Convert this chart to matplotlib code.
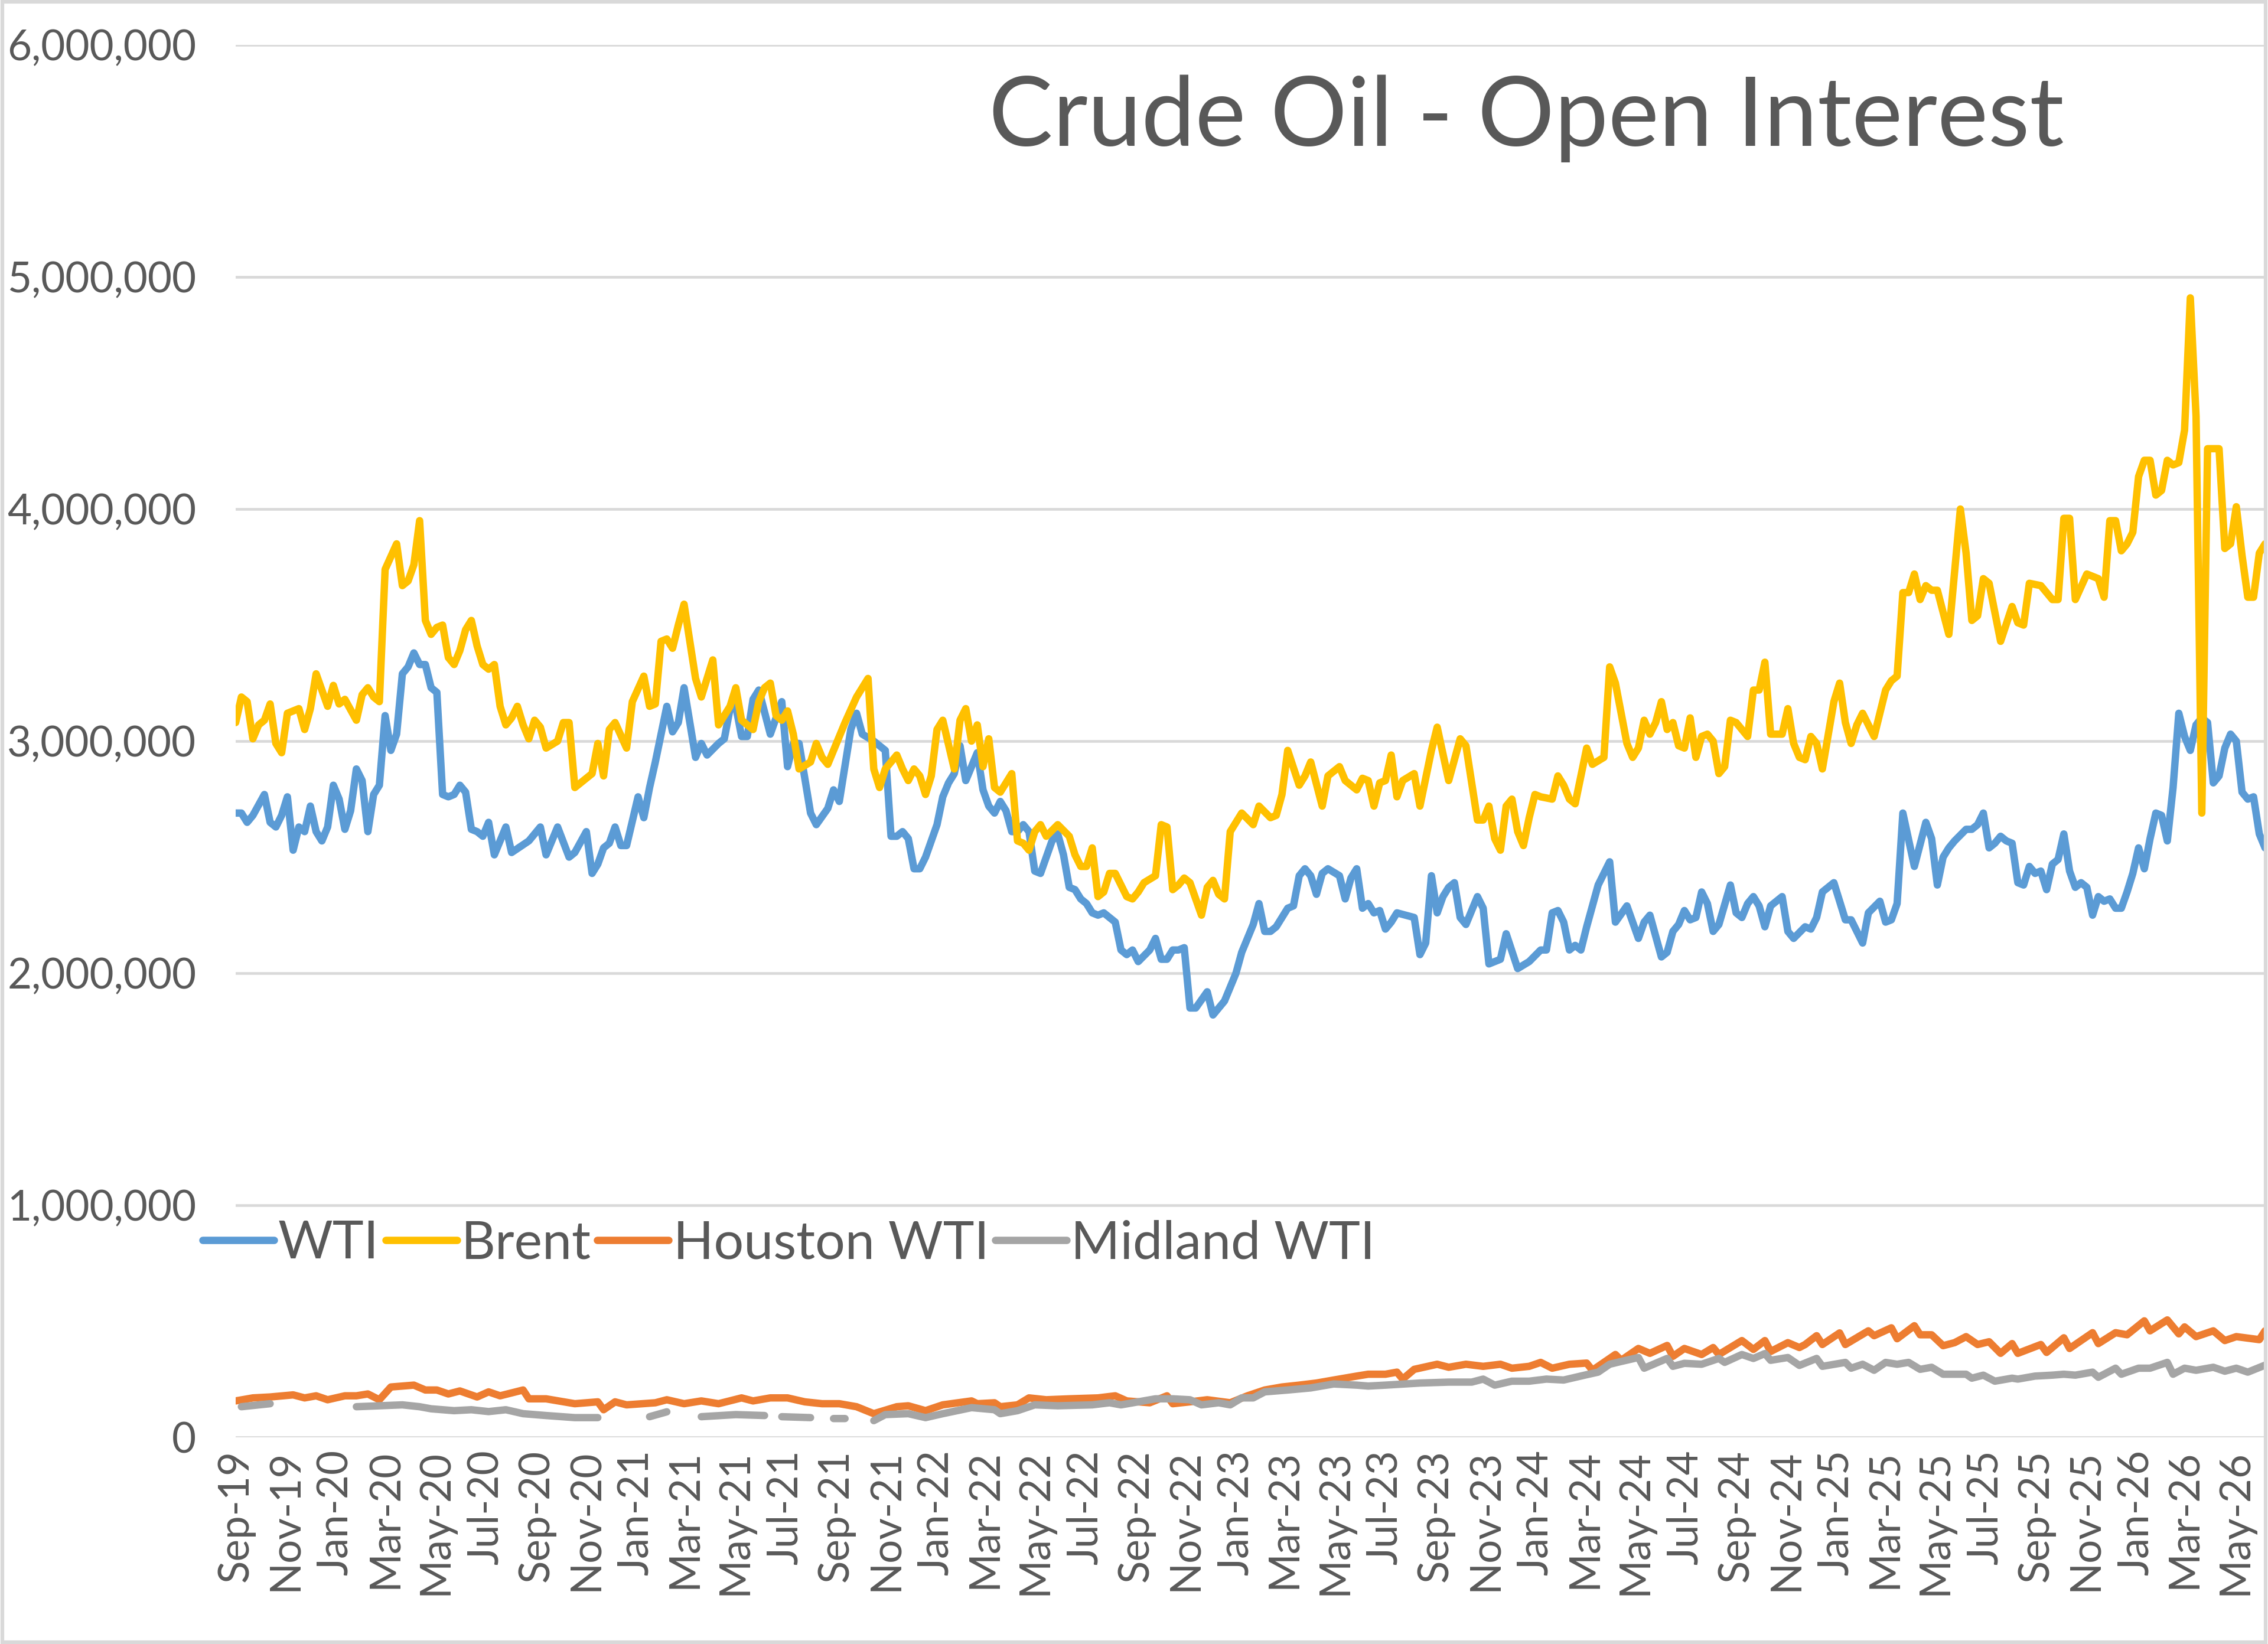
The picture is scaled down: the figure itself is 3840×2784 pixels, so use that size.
import datetime as dt
import numpy as np
import matplotlib
matplotlib.use("Agg")
import matplotlib.pyplot as plt
import matplotlib.dates as mdates
from matplotlib.ticker import FuncFormatter, MultipleLocator
from matplotlib.patches import Rectangle

plt.rcParams['font.family'] = ['Lato', 'DejaVu Sans']

start = dt.date(2019, 9, 3)  # first weekly report
n_weeks = 353

# (weeks since start, open interest in millions of contracts)
wti = [(0, 2.69), (1, 2.69), (2, 2.65), (3, 2.68), (5, 2.77), (6, 2.65), (7, 2.63), (8, 2.68),
       (9, 2.76), (10, 2.53), (11, 2.63), (12, 2.61), (13, 2.72), (14, 2.61), (15, 2.57), (16, 2.63),
       (17, 2.81), (18, 2.75), (19, 2.62), (20, 2.70), (21, 2.88), (22, 2.83), (23, 2.61), (24, 2.77),
       (25, 2.81), (26, 3.11), (27, 2.96), (28, 3.03), (29, 3.29), (30, 3.32), (31, 3.38), (32, 3.33),
       (33, 3.33), (34, 3.23), (35, 3.21), (36, 2.77), (37, 2.76), (38, 2.77), (39, 2.81), (40, 2.78),
       (41, 2.62), (42, 2.61), (43, 2.59), (44, 2.65), (45, 2.51), (46, 2.57), (47, 2.63), (48, 2.52),
       (51, 2.57), (53, 2.63), (54, 2.51), (56, 2.63), (58, 2.50), (59, 2.52), (61, 2.61), (62, 2.43),
       (63, 2.47), (64, 2.54), (65, 2.56), (66, 2.63), (67, 2.55), (68, 2.55), (70, 2.76), (71, 2.67),
       (72, 2.80), (73, 2.91), (75, 3.15), (76, 3.04), (77, 3.08), (78, 3.23), (80, 2.93), (81, 2.99),
       (82, 2.94), (84, 2.99), (85, 3.01), (86, 3.14), (87, 3.15), (88, 3.02), (89, 3.02), (90, 3.18),
       (91, 3.22), (93, 3.03), (94, 3.10), (95, 3.17), (96, 2.89), (97, 2.99), (98, 2.99), (100, 2.69),
       (101, 2.64), (103, 2.71), (104, 2.79), (105, 2.74), (107, 3.05), (108, 3.12), (109, 3.03),
       (111, 3.00), (113, 2.96), (114, 2.59), (115, 2.59), (116, 2.61), (117, 2.58), (118, 2.45),
       (119, 2.45), (120, 2.50), (122, 2.64), (123, 2.76), (124, 2.82), (125, 2.86), (126, 2.98),
       (127, 2.83), (129, 2.95), (130, 2.79), (131, 2.72), (132, 2.69), (133, 2.74), (134, 2.70),
       (135, 2.61), (136, 2.61), (137, 2.64), (138, 2.61), (139, 2.44), (140, 2.43), (142, 2.57),
       (143, 2.60), (144, 2.51), (145, 2.37), (146, 2.36), (147, 2.32), (148, 2.30), (149, 2.26),
       (150, 2.25), (151, 2.26), (152, 2.24), (153, 2.22), (154, 2.10), (155, 2.08), (156, 2.10),
       (157, 2.05), (159, 2.10), (160, 2.15), (161, 2.06), (162, 2.06), (163, 2.10), (164, 2.10),
       (165, 2.11), (166, 1.85), (167, 1.85), (169, 1.92), (170, 1.82), (172, 1.88), (174, 2.00),
       (175, 2.09), (177, 2.21), (178, 2.30), (179, 2.18), (180, 2.18), (181, 2.20), (183, 2.28),
       (184, 2.29), (185, 2.42), (186, 2.45), (187, 2.42), (188, 2.34), (189, 2.43), (190, 2.45),
       (192, 2.42), (193, 2.32), (194, 2.41), (195, 2.45), (196, 2.28), (197, 2.30), (198, 2.26),
       (199, 2.27), (200, 2.19), (201, 2.22), (202, 2.26), (205, 2.24), (206, 2.08), (207, 2.13),
       (208, 2.42), (209, 2.26), (210, 2.33), (211, 2.37), (212, 2.39), (213, 2.24), (214, 2.21),
       (216, 2.33), (217, 2.28), (218, 2.04), (220, 2.06), (221, 2.17), (223, 2.02), (225, 2.05),
       (227, 2.10), (228, 2.10), (229, 2.26), (230, 2.27), (231, 2.22), (232, 2.10), (233, 2.12),
       (234, 2.10), (235, 2.20), (237, 2.38), (239, 2.48), (240, 2.22), (242, 2.29), (244, 2.15),
       (245, 2.22), (246, 2.25), (248, 2.07), (249, 2.09), (250, 2.18), (251, 2.21), (252, 2.27),
       (253, 2.23), (254, 2.24), (255, 2.35), (256, 2.30), (257, 2.18), (258, 2.21), (260, 2.38),
       (261, 2.26), (262, 2.24), (263, 2.30), (264, 2.33), (265, 2.29), (266, 2.20), (267, 2.29),
       (269, 2.33), (270, 2.18), (271, 2.15), (273, 2.20), (274, 2.19), (275, 2.24), (276, 2.35),
       (278, 2.39), (280, 2.23), (281, 2.23), (283, 2.13), (284, 2.26), (286, 2.31), (287, 2.22),
       (288, 2.23), (289, 2.30), (290, 2.69), (292, 2.46), (294, 2.65), (295, 2.58), (296, 2.38),
       (297, 2.50), (298, 2.54), (299, 2.57), (301, 2.62), (302, 2.62), (303, 2.64), (304, 2.69),
       (305, 2.54), (306, 2.56), (307, 2.59), (308, 2.57), (309, 2.56), (310, 2.39), (311, 2.38),
       (312, 2.46), (313, 2.43), (314, 2.44), (315, 2.36), (316, 2.47), (317, 2.49), (318, 2.60),
       (319, 2.44), (320, 2.37), (321, 2.39), (322, 2.37), (323, 2.25), (324, 2.33), (325, 2.31),
       (326, 2.32), (327, 2.28), (328, 2.28), (329, 2.35), (330, 2.43), (331, 2.54), (332, 2.45),
       (333, 2.58), (334, 2.69), (335, 2.68), (336, 2.57), (337, 2.80), (338, 3.12), (339, 3.02),
       (340, 2.96), (341, 3.07), (342, 3.10), (343, 3.08), (344, 2.82), (345, 2.85), (346, 2.97),
       (347, 3.03), (348, 3.00), (349, 2.78), (350, 2.75), (351, 2.76), (352, 2.60), (353, 2.54)]

brent = [(0, 3.08), (1, 3.19), (2, 3.17), (3, 3.01), (4, 3.07), (5, 3.09), (6, 3.16), (7, 2.99),
         (8, 2.95), (9, 3.12), (11, 3.14), (12, 3.05), (13, 3.14), (14, 3.29), (16, 3.15), (17, 3.24),
         (18, 3.16), (19, 3.18), (21, 3.09), (22, 3.20), (23, 3.23), (24, 3.19), (25, 3.17), (26, 3.74),
         (28, 3.85), (29, 3.67), (30, 3.69), (31, 3.76), (32, 3.95), (33, 3.52), (34, 3.46), (35, 3.49),
         (36, 3.50), (37, 3.36), (38, 3.33), (39, 3.39), (40, 3.48), (41, 3.52), (42, 3.41), (43, 3.33),
         (44, 3.31), (45, 3.33), (46, 3.15), (47, 3.07), (48, 3.10), (49, 3.15), (50, 3.07), (51, 3.01),
         (52, 3.09), (53, 3.06), (54, 2.97), (56, 3.00), (57, 3.08), (58, 3.08), (59, 2.80), (60, 2.82),
         (62, 2.86), (63, 2.99), (64, 2.85), (65, 3.05), (66, 3.08), (68, 2.97), (69, 3.17), (71, 3.28),
         (72, 3.15), (73, 3.16), (74, 3.43), (75, 3.44), (76, 3.40), (77, 3.50), (78, 3.59), (80, 3.27),
         (81, 3.19), (83, 3.35), (84, 3.07), (86, 3.15), (87, 3.23), (88, 3.09), (90, 3.05), (91, 3.17),
         (92, 3.23), (93, 3.25), (94, 3.11), (95, 3.09), (96, 3.13), (97, 3.03), (98, 2.88), (100, 2.91),
         (101, 2.99), (102, 2.93), (103, 2.90), (105, 3.02), (106, 3.08), (108, 3.19), (110, 3.27),
         (111, 2.88), (112, 2.80), (113, 2.88), (114, 2.91), (115, 2.94), (116, 2.88), (117, 2.83),
         (118, 2.88), (119, 2.85), (120, 2.77), (121, 2.85), (122, 3.05), (123, 3.09), (125, 2.88),
         (126, 3.09), (127, 3.14), (128, 3.00), (129, 3.07), (130, 2.89), (131, 3.01), (132, 2.80),
         (133, 2.78), (135, 2.86), (136, 2.57), (137, 2.56), (138, 2.53), (139, 2.61), (140, 2.64),
         (141, 2.59), (143, 2.64), (145, 2.59), (146, 2.51), (147, 2.46), (148, 2.46), (149, 2.54),
         (150, 2.33), (151, 2.35), (152, 2.43), (153, 2.43), (155, 2.33), (156, 2.32), (157, 2.35),
         (158, 2.39), (160, 2.42), (161, 2.64), (162, 2.63), (163, 2.36), (164, 2.38), (165, 2.41),
         (166, 2.39), (168, 2.25), (169, 2.37), (170, 2.40), (171, 2.34), (172, 2.32), (173, 2.61),
         (175, 2.69), (177, 2.64), (178, 2.72), (180, 2.67), (181, 2.68), (182, 2.77), (183, 2.96),
         (185, 2.81), (186, 2.85), (187, 2.91), (189, 2.72), (190, 2.85), (192, 2.89), (193, 2.83),
         (195, 2.79), (196, 2.84), (197, 2.83), (198, 2.72), (199, 2.82), (200, 2.83), (201, 2.94),
         (202, 2.76), (203, 2.83), (205, 2.86), (206, 2.72), (208, 2.96), (209, 3.06), (211, 2.83),
         (213, 3.01), (214, 2.98), (216, 2.66), (217, 2.66), (218, 2.72), (219, 2.58), (220, 2.53),
         (221, 2.72), (222, 2.75), (223, 2.61), (224, 2.55), (225, 2.67), (226, 2.77), (227, 2.76),
         (229, 2.75), (230, 2.85), (231, 2.81), (232, 2.75), (233, 2.73), (235, 2.97), (236, 2.90),
         (238, 2.93), (239, 3.32), (240, 3.25), (242, 2.99), (243, 2.93), (244, 2.97), (245, 3.09),
         (246, 3.03), (247, 3.08), (248, 3.17), (249, 3.05), (250, 3.08), (251, 2.98), (252, 2.97),
         (253, 3.10), (254, 2.93), (255, 3.02), (256, 3.03), (257, 3.00), (258, 2.86), (259, 2.89),
         (260, 3.09), (261, 3.08), (263, 3.02), (264, 3.22), (265, 3.22), (266, 3.34), (267, 3.03),
         (268, 3.03), (269, 3.03), (270, 3.14), (271, 2.99), (272, 2.93), (273, 2.92), (274, 3.02),
         (275, 2.99), (276, 2.88), (278, 3.17), (279, 3.25), (280, 3.08), (281, 2.99), (282, 3.07),
         (283, 3.12), (285, 3.02), (286, 3.12), (287, 3.22), (288, 3.26), (289, 3.28), (290, 3.64),
         (291, 3.64), (292, 3.72), (293, 3.61), (294, 3.67), (295, 3.65), (296, 3.65), (298, 3.46),
         (300, 4.00), (301, 3.81), (302, 3.52), (303, 3.54), (304, 3.70), (305, 3.68), (307, 3.43),
         (309, 3.58), (310, 3.51), (311, 3.50), (312, 3.68), (314, 3.67), (316, 3.61), (317, 3.61),
         (318, 3.96), (319, 3.96), (320, 3.61), (322, 3.72), (324, 3.70), (325, 3.62), (326, 3.95),
         (327, 3.95), (328, 3.82), (329, 3.85), (330, 3.90), (331, 4.14), (332, 4.21), (333, 4.21),
         (334, 4.06), (335, 4.08), (336, 4.21), (337, 4.19), (338, 4.20), (339, 4.34), (340, 4.91),
         (341, 4.40), (342, 2.69), (343, 4.26), (345, 4.26), (346, 3.83), (347, 3.85), (348, 4.01),
         (349, 3.80), (350, 3.62), (351, 3.62), (352, 3.81), (353, 3.85)]

houston = [(0, 0.157), (3, 0.170), (6, 0.174), (10, 0.183), (12, 0.170), (14, 0.179), (16, 0.162),
           (19, 0.179), (21, 0.179), (23, 0.187), (25, 0.162), (27, 0.217), (31, 0.225), (33, 0.204),
           (35, 0.204), (37, 0.187), (39, 0.200), (42, 0.174), (44, 0.196), (46, 0.179), (50, 0.204),
           (51, 0.166), (54, 0.166), (59, 0.145), (63, 0.153), (64, 0.119), (66, 0.153), (68, 0.140),
           (73, 0.149), (75, 0.162), (78, 0.145), (81, 0.157), (84, 0.145), (88, 0.170), (90, 0.157),
           (93, 0.170), (96, 0.170), (99, 0.153), (102, 0.145), (105, 0.145), (108, 0.132), (111, 0.102),
           (115, 0.132), (117, 0.136), (120, 0.115), (123, 0.140), (128, 0.157), (129, 0.145),
           (132, 0.149), (133, 0.132), (136, 0.140), (138, 0.170), (141, 0.162), (145, 0.166),
           (150, 0.170), (153, 0.179), (155, 0.157), (159, 0.149), (162, 0.179), (163, 0.145),
           (166, 0.153), (169, 0.162), (173, 0.149), (176, 0.179), (179, 0.204), (182, 0.217),
           (185, 0.225), (188, 0.234), (191, 0.247), (195, 0.264), (197, 0.272), (200, 0.272),
           (202, 0.281), (203, 0.251), (205, 0.293), (209, 0.315), (211, 0.302), (214, 0.315),
           (217, 0.306), (220, 0.315), (222, 0.298), (225, 0.306), (227, 0.323), (229, 0.298),
           (232, 0.315), (235, 0.320), (236, 0.289), (240, 0.357), (241, 0.332), (244, 0.383),
           (246, 0.362), (249, 0.396), (250, 0.349), (252, 0.383), (255, 0.357), (257, 0.387),
           (258, 0.357), (262, 0.417), (264, 0.379), (266, 0.417), (267, 0.370), (270, 0.408),
           (272, 0.387), (273, 0.400), (275, 0.438), (276, 0.400), (279, 0.450), (280, 0.400),
           (284, 0.459), (285, 0.438), (288, 0.472), (289, 0.425), (292, 0.481), (293, 0.442),
           (295, 0.442), (297, 0.395), (299, 0.408), (301, 0.434), (303, 0.400), (305, 0.412),
           (307, 0.362), (309, 0.404), (310, 0.362), (314, 0.400), (315, 0.366), (318, 0.429),
           (319, 0.383), (323, 0.451), (324, 0.404), (327, 0.451), (329, 0.442), (332, 0.502),
           (333, 0.459), (336, 0.506), (338, 0.446), (339, 0.476), (341, 0.434), (344, 0.459),
           (346, 0.417), (348, 0.434), (352, 0.421), (353, 0.459)]

# None = week with no report (line breaks there)
midland = [(1, 0.132), (6, 0.145), (7, None), (21, 0.132), (25, 0.136), (29, 0.140), (32, 0.132),
           (34, 0.123), (38, 0.115), (41, 0.119), (44, 0.111), (47, 0.119), (50, 0.102), (54, 0.094),
           (59, 0.085), (63, 0.085), (64, None), (72, 0.089), (75, 0.110), (76, None), (81, 0.089),
           (87, 0.098), (92, 0.094), (93, None), (95, 0.089), (100, 0.085), (101, None), (104, 0.081),
           (106, 0.081), (107, None), (111, 0.072), (113, 0.098), (117, 0.102), (120, 0.085),
           (123, 0.102), (128, 0.128), (132, 0.119), (133, 0.102), (136, 0.115), (139, 0.140),
           (143, 0.136), (149, 0.140), (152, 0.149), (154, 0.140), (157, 0.153), (160, 0.166),
           (163, 0.166), (166, 0.162), (168, 0.140), (171, 0.149), (173, 0.140), (175, 0.170),
           (177, 0.170), (179, 0.196), (183, 0.204), (187, 0.213), (191, 0.230), (195, 0.225),
           (197, 0.221), (200, 0.225), (206, 0.234), (211, 0.238), (215, 0.238), (217, 0.251),
           (219, 0.225), (222, 0.242), (225, 0.242), (228, 0.251), (231, 0.247), (235, 0.270),
           (237, 0.281), (239, 0.315), (241, 0.327), (244, 0.344), (245, 0.298), (249, 0.340),
           (250, 0.306), (252, 0.319), (255, 0.315), (258, 0.340), (259, 0.323), (262, 0.357),
           (264, 0.340), (266, 0.361), (267, 0.332), (270, 0.344), (272, 0.310), (275, 0.340),
           (276, 0.306), (280, 0.323), (281, 0.298), (283, 0.315), (285, 0.289), (287, 0.323),
           (289, 0.315), (291, 0.323), (293, 0.293), (295, 0.302), (297, 0.272), (301, 0.272),
           (302, 0.255), (304, 0.268), (306, 0.242), (309, 0.255), (310, 0.251), (313, 0.264),
           (316, 0.268), (318, 0.272), (320, 0.268), (323, 0.281), (324, 0.259), (327, 0.298),
           (328, 0.272), (331, 0.298), (333, 0.298), (336, 0.323), (337, 0.272), (339, 0.298),
           (341, 0.289), (344, 0.302), (346, 0.285), (348, 0.298), (350, 0.281), (353, 0.311)]

series = [("WTI", wti, "#5B9BD5"),
          ("Brent", brent, "#FFC000"),
          ("Houston WTI", houston, "#ED7D31"),
          ("Midland WTI", midland, "#A5A5A5")]


def unpack(pairs):
    dates = [start + dt.timedelta(weeks=w) for w, _ in pairs]
    vals = [np.nan if v is None else v * 1e6 for _, v in pairs]
    return dates, vals


text_col = "#595959"
grid_col = "#D9D9D9"

fig = plt.figure(figsize=(12.8, 9.28), dpi=300)
ax = fig.add_axes([0.1039, 0.1257, 0.8948, 0.847])

handles = []
for name, pairs, col in series:
    d, v = unpack(pairs)
    h, = ax.plot(d, v, color=col, lw=3.0, label=name,
                 solid_joinstyle="round", solid_capstyle="round")
    handles.append(h)

ax.set_ylim(0, 6e6)
ax.set_xlim(start, start + dt.timedelta(weeks=n_weeks))
ax.yaxis.set_major_locator(MultipleLocator(1e6))
ax.yaxis.set_major_formatter(FuncFormatter(lambda y, _: f"{y:,.0f}"))
ax.xaxis.set_major_locator(mdates.MonthLocator(bymonth=[1, 3, 5, 7, 9, 11], bymonthday=3))
ax.xaxis.set_major_formatter(mdates.DateFormatter("%b-%y"))

ax.grid(axis="y", color=grid_col, lw=1.1)
ax.set_axisbelow(True)
for s in ax.spines.values():
    s.set_visible(False)
ax.tick_params(axis="both", length=0, labelsize=17, labelcolor=text_col)
ax.tick_params(axis="y", pad=16)
ax.tick_params(axis="x", pad=5, labelrotation=90)

fig.text(0.673, 0.928, "Crude Oil - Open Interest", ha="center", va="center",
         fontsize=39, color=text_col)

fig.legend(handles=handles, loc="center left", bbox_to_anchor=(0.0893, 0.2435),
           ncol=4, frameon=False, fontsize=21.5, labelcolor=text_col,
           handlelength=1.35, handletextpad=0.08, columnspacing=0.12,
           borderpad=0, borderaxespad=0)

fig.add_artist(Rectangle((0.001, 0.001), 0.998, 0.998, transform=fig.transFigure,
                         fill=False, edgecolor=grid_col, lw=1.5))

fig.savefig("out.png", dpi=300)
